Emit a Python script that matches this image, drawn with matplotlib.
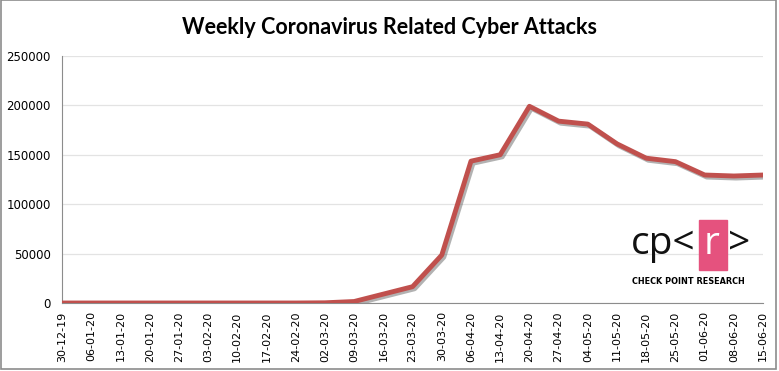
import matplotlib.pyplot as plt
import matplotlib.patheffects as pe
from matplotlib.patches import Rectangle

dates = ['30-12-19', '06-01-20', '13-01-20', '20-01-20', '27-01-20', '03-02-20',
         '10-02-20', '17-02-20', '24-02-20', '02-03-20', '09-03-20', '16-03-20',
         '23-03-20', '30-03-20', '06-04-20', '13-04-20', '20-04-20', '27-04-20',
         '04-05-20', '11-05-20', '18-05-20', '25-05-20', '01-06-20', '08-06-20',
         '15-06-20']
attacks = [0, 0, 0, 0, 0, 0, 0, 0, 0, 200, 1500, 9000, 16500, 48500, 143500,
           150000, 199000, 184000, 181000, 161000, 146500, 143000, 129500, 128500,
           129500]
y_ticks = [0, 50000, 100000, 150000, 200000, 250000]

W, H = 779, 371
fig = plt.figure(figsize=(W / 100, H / 100), dpi=100)
ax = fig.add_axes([0.0796, 0.1833, 0.9, 0.666])

x = list(range(len(dates)))
ax.plot(x, attacks, color='#C0504D', lw=3.5, solid_joinstyle='round',
        path_effects=[pe.SimpleLineShadow(offset=(1.5, -1.5), shadow_color='#555555', alpha=0.45),
                      pe.Normal()], zorder=3)

ax.set_xlim(0, len(dates) - 1)
ax.set_ylim(0, 250000)
ax.set_yticks(y_ticks)
ax.set_xticks(x)
ax.set_xticklabels(dates, rotation=90, fontsize=8)
ax.tick_params(axis='y', labelsize=8.5, length=0, pad=8)
ax.tick_params(axis='x', length=0, pad=6)
ax.grid(axis='y', color='#E3E3E3', lw=0.9)
ax.set_axisbelow(True)
for s in ['top', 'right']:
    ax.spines[s].set_visible(False)
ax.spines['left'].set_color('#8C8C8C')
ax.spines['bottom'].set_color('#8C8C8C')

fig.text(0.5, 1 - 27 / H, 'Weekly Coronavirus Related Cyber Attacks', ha='center', va='center',
         fontsize=15.5, fontweight='bold', family='Lato')

# logo
fig.patches.append(Rectangle((699 / W, 1 - 270 / H), 28 / W, 50 / H,
                             transform=fig.transFigure, color='#E5527E', zorder=5))
base = 1 - 254 / H
fig.text(631 / W, base, 'cp<', fontsize=28, family='Open Sans', color='#111111',
         ha='left', va='baseline', zorder=6)
fig.text(712 / W, base, 'r', fontsize=28, family='Open Sans', color='white',
         ha='center', va='baseline', zorder=6)
fig.text(728 / W, base, '>', fontsize=28, family='Open Sans', color='#111111',
         ha='left', va='baseline', zorder=6)
fig.text(688 / W, 1 - 282 / H, 'CHECK POINT RESEARCH', fontsize=6.5, fontweight='bold',
         family='DejaVu Sans', fontstretch='condensed', ha='center', va='center', zorder=6)

fig.patches.append(Rectangle((0.001, 0.006), 0.995, 0.993, transform=fig.transFigure,
                             fill=False, edgecolor='#8C8C8C', lw=1.2))

fig.savefig('out.png', dpi=100)
